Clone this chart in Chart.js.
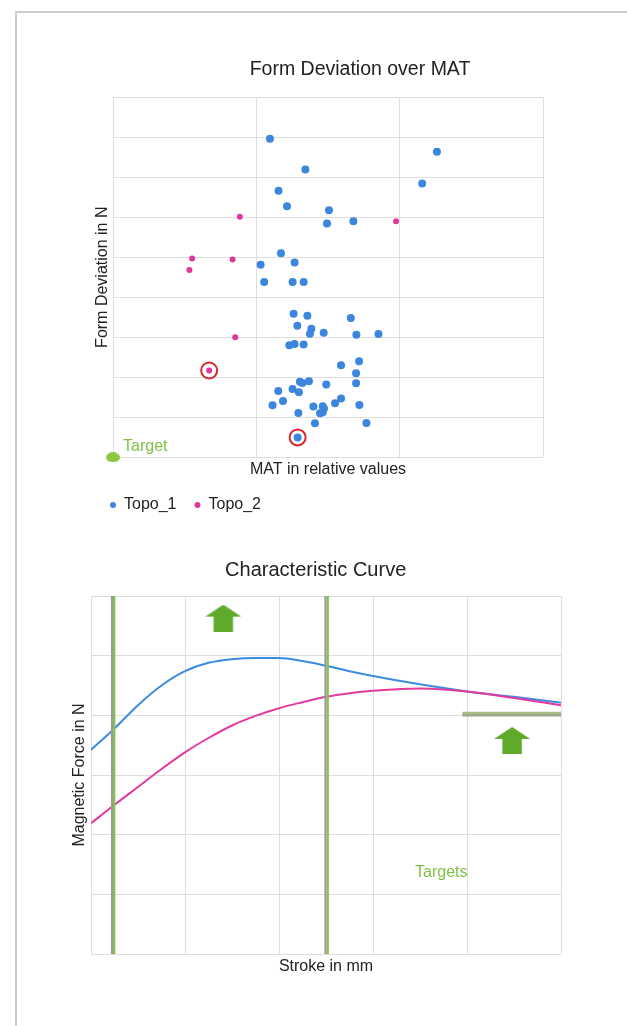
<!DOCTYPE html>
<html>
<head>
<meta charset="utf-8">
<script src="https://cdn.jsdelivr.net/npm/chart.js@4.4.1/dist/chart.umd.min.js"></script>
<style>
  html, body { margin: 0; padding: 0; background: #fff; overflow: hidden; width: 627px; height: 1026px; }
  #frame { position: absolute; left: 15px; top: 11px; width: 700px; height: 1100px;
           border-left: 2px solid #cdcdcd; border-top: 2px solid #cdcdcd; }
  #c1 { position: absolute; left: 92px; top: 40px; }
  #c2 { position: absolute; left: 6px; top: 540px; }
</style>
</head>
<body>
<div id="frame"></div>
<canvas id="c1" width="536" height="483" style="width:536px;height:483px"></canvas>
<canvas id="c2" width="622" height="437" style="width:622px;height:437px"></canvas>
<script>
// ---------- Chart 1 data: Form Deviation over MAT ----------
const topo1MAT = [1.095, 2.26, 1.342, 2.157, 1.155, 1.214, 1.507, 1.493, 1.677, 1.172, 1.267, 1.030, 1.055, 1.253, 1.330,
  1.260, 1.356, 1.659, 1.286, 1.384, 1.374, 1.470, 1.698, 1.852, 1.230, 1.267, 1.330, 1.591, 1.717, 1.696,
  1.304, 1.321, 1.367, 1.488, 1.696, 1.153, 1.253, 1.297, 1.186, 1.113, 1.398, 1.463, 1.472, 1.549, 1.591,
  1.719, 1.293, 1.444, 1.463, 1.409, 1.768, 1.288];
const topo1Dev = [7.96, 7.63, 7.19, 6.84, 6.66, 6.27, 6.17, 5.84, 5.90, 5.10, 4.87, 4.81, 4.38, 4.38, 4.38,
  3.59, 3.54, 3.48, 3.29, 3.21, 3.09, 3.11, 3.06, 3.08, 2.80, 2.83, 2.82, 2.30, 2.40, 2.10,
  1.89, 1.86, 1.90, 1.82, 1.85, 1.66, 1.71, 1.63, 1.41, 1.30, 1.27, 1.28, 1.22, 1.35, 1.47,
  1.31, 1.11, 1.10, 1.13, 0.85, 0.86, 0.50];
const topo2MAT = [0.885, 1.975, 0.552, 0.834, 0.533, 0.853, 0.671];
const topo2Dev = [6.01, 5.90, 4.97, 4.94, 4.68, 3.00, 2.17];
const highlightMAT = [0.671, 1.288];
const highlightDev = [2.17, 0.50];
const targetMAT = [0];
const targetDev = [0];
const matTicksMax = 3;
const devTicksMax = 9;
const targetLabel1 = { text: 'Target', x: 0.07, y: 0.26 };

// ---------- Chart 2 data: Characteristic Curve ----------
const strokeValues = [0, 0.25, 0.5, 0.75, 1, 1.25, 1.5, 1.75, 2, 2.25, 2.5, 2.75, 3, 3.5, 4, 4.5, 5];
const topo1Force   = [3.42, 3.78, 4.17, 4.50, 4.74, 4.88, 4.94, 4.96, 4.96, 4.91, 4.83, 4.74, 4.66, 4.52, 4.40, 4.31, 4.21];
const topo2Force   = [2.19, 2.50, 2.80, 3.10, 3.38, 3.62, 3.83, 3.99, 4.12, 4.22, 4.31, 4.37, 4.41, 4.45, 4.40, 4.29, 4.17];
const targetStrokeLines = [0.234, 2.505];
const targetForceLevel = 4.02;
const targetForceFrom = 3.95;
const targetForceTo = 5.0;
const arrowStroke = [1.407, 4.48];
const arrowForce  = [5.63, 3.58];
const strokeMax = 5;
const forceMax = 6;
const targetLabel2 = { text: 'Targets', x: 3.447, y: 1.357 };

// ---------- styling ----------
const FONT = '"Liberation Sans", Arial, Helvetica, sans-serif';
Chart.defaults.font.family = FONT;
Chart.defaults.color = '#222';
const BLUE = '#3d86dd';
const PINK = '#e0379c';
const GREEN_TXT = '#80bf48';
const GRID = '#dedede';

function makeEllipse(w, h, color) {
  const c = document.createElement('canvas');
  c.width = w; c.height = h;
  const g = c.getContext('2d');
  g.fillStyle = color;
  g.beginPath();
  g.ellipse(w / 2, h / 2, w / 2, h / 2, 0, 0, Math.PI * 2);
  g.fill();
  return c;
}
function makeArrow(w, h, color) {
  const c = document.createElement('canvas');
  c.width = w; c.height = h;
  const g = c.getContext('2d');
  g.fillStyle = color;
  const headH = h * 0.44, inset = w * 0.23;
  g.beginPath();
  g.moveTo(w / 2, 0);
  g.lineTo(w, headH);
  g.lineTo(w - inset, headH);
  g.lineTo(w - inset, h);
  g.lineTo(inset, h);
  g.lineTo(inset, headH);
  g.lineTo(0, headH);
  g.closePath();
  g.fill();
  return c;
}

const shiftPlugin = {
  id: 'shiftLayer',
  beforeDatasetDraw(chart, args) {
    const ds = chart.data.datasets[args.index];
    if (ds.shift) { chart.ctx.save(); chart.ctx.translate(ds.shift[0], ds.shift[1]); }
  },
  afterDatasetDraw(chart, args) {
    const ds = chart.data.datasets[args.index];
    if (ds.shift) chart.ctx.restore();
  }
};
const textPlugin = {
  id: 'chartText',
  afterDatasetsDraw(chart, args, opts) {
    const ctx = chart.ctx;
    (opts.items || []).forEach(it => {
      const x = chart.scales.x.getPixelForValue(it.x);
      const y = chart.scales.y.getPixelForValue(it.y);
      ctx.save();
      ctx.font = '16px ' + FONT;
      ctx.fillStyle = opts.color;
      ctx.textAlign = 'left';
      ctx.textBaseline = 'middle';
      ctx.fillText(it.text, x, y);
      ctx.restore();
    });
  }
};

const zip = (xs, ys) => xs.map((x, i) => ({ x, y: ys[i] }));

// ---------- Chart 1 ----------
new Chart(document.getElementById('c1'), {
  type: 'scatter',
  data: {
    datasets: [
      { label: 'highlight', data: zip(highlightMAT, highlightDev), pointRadius: 8, pointBorderWidth: 2,
        borderColor: '#d8262e', pointBorderColor: '#d8262e', backgroundColor: 'rgba(0,0,0,0)', pointBackgroundColor: 'rgba(0,0,0,0)', order: 0 },
      { label: 'Topo_2', data: zip(topo2MAT, topo2Dev), pointRadius: 3, borderWidth: 0, pointBorderWidth: 0,
        backgroundColor: PINK, borderColor: PINK, order: 1 },
      { label: 'Topo_1', data: zip(topo1MAT, topo1Dev), pointRadius: 4, borderWidth: 0, pointBorderWidth: 0,
        backgroundColor: BLUE, borderColor: BLUE, order: 2 },
      { label: 'target', data: zip(targetMAT, targetDev), pointStyle: makeEllipse(14, 10, '#8dc63f'),
        pointRadius: 6, clip: false, order: 3 }
    ]
  },
  options: {
    responsive: false,
    animation: false,
    events: [],
    layout: { padding: { left: 0, right: 0, top: 0, bottom: 0 } },
    scales: {
      x: {
        type: 'linear', min: 0, max: matTicksMax,
        ticks: { display: false, stepSize: 1 },
        grid: { color: GRID, drawTicks: false },
        border: { display: false },
        title: { display: true, text: 'MAT in relative values', font: { size: 16 }, color: '#222', padding: { top: 2.4, bottom: 0 } }
      },
      y: {
        type: 'linear', min: 0, max: devTicksMax,
        ticks: { display: false, stepSize: 1 },
        grid: { color: GRID, drawTicks: false },
        border: { display: false },
        title: { display: true, text: 'Form Deviation in N', font: { size: 16 }, color: '#222', padding: { top: 1, bottom: 0.8 } }
      },
      yRight: {
        type: 'linear', position: 'right', display: true,
        ticks: { display: false },
        grid: { display: false, drawTicks: false },
        border: { display: false },
        afterFit(scale) { scale.width = 85; }
      }
    },
    plugins: {
      title: { display: true, text: 'Form Deviation over MAT', font: { size: 19.5, weight: 'normal' }, color: '#222',
               padding: { top: 18.3, bottom: 15.3 } },
      legend: {
        display: true, position: 'bottom', align: 'start', reverse: true,
        labels: {
          usePointStyle: true, pointStyleWidth: 6, boxHeight: 4.3, padding: 18,
          font: { size: 16 }, color: '#222',
          filter: (item) => item.text === 'Topo_1' || item.text === 'Topo_2'
        }
      },
      tooltip: { enabled: false },
      chartText: { items: [targetLabel1], color: GREEN_TXT }
    }
  },
  plugins: [textPlugin]
});

// ---------- Chart 2 ----------
const vLineSets = [];
targetStrokeLines.forEach((sx) => {
  vLineSets.push({ label: 'tg', data: [{ x: sx, y: 0 }, { x: sx, y: forceMax }], borderColor: '#86c24f',
    borderWidth: 2.4, pointRadius: 0, shift: [1.2, 0], order: 0 });
  vLineSets.push({ label: 'tg', data: [{ x: sx, y: 0 }, { x: sx, y: forceMax }], borderColor: '#9b9b9b',
    borderWidth: 2.2, pointRadius: 0, shift: [-1.0, 0], order: 1 });
});
new Chart(document.getElementById('c2'), {
  type: 'line',
  data: {
    datasets: [
      ...vLineSets,
      { label: 'th1', data: [{ x: targetForceFrom, y: targetForceLevel }, { x: targetForceTo, y: targetForceLevel }],
        borderColor: '#a7bf86', borderWidth: 2.4, pointRadius: 0, shift: [0, -1.1], order: 0 },
      { label: 'th2', data: [{ x: targetForceFrom, y: targetForceLevel }, { x: targetForceTo, y: targetForceLevel }],
        borderColor: '#9da78f', borderWidth: 2.4, pointRadius: 0, shift: [0, 1.1], order: 1 },
      { label: 'arrows', data: zip(arrowStroke, arrowForce), showLine: false,
        pointStyle: makeArrow(36, 27, '#5fa92b'), pointRadius: 10, order: 0 },
      { label: 'Topo_2', data: zip(strokeValues, topo2Force), borderColor: '#e33a9d', borderWidth: 2,
        pointRadius: 0, cubicInterpolationMode: 'monotone', order: 3 },
      { label: 'Topo_1', data: zip(strokeValues, topo1Force), borderColor: '#3b8be0', borderWidth: 2,
        pointRadius: 0, cubicInterpolationMode: 'monotone', order: 4 }
    ]
  },
  options: {
    responsive: false,
    animation: false,
    events: [],
    layout: { padding: { left: 64.4, right: 67, top: 0, bottom: 0.7 } },
    scales: {
      x: {
        type: 'linear', min: 0, max: strokeMax,
        ticks: { display: false, stepSize: 1 },
        grid: { color: GRID, drawTicks: false },
        border: { display: false },
        title: { display: true, text: 'Stroke in mm', font: { size: 16 }, color: '#222', padding: { top: 3.1, bottom: 0 } }
      },
      y: {
        type: 'linear', min: 0, max: forceMax,
        ticks: { display: false, stepSize: 1 },
        grid: { color: GRID, drawTicks: false },
        border: { display: false },
        title: { display: true, text: 'Magnetic Force in N', font: { size: 16 }, color: '#222', padding: { top: 0, bottom: 1.4 } }
      }
    },
    plugins: {
      title: { display: true, text: 'Characteristic Curve', font: { size: 20, weight: 'normal' }, color: '#222',
               padding: { top: 18.7, bottom: 13.3 } },
      legend: { display: false },
      tooltip: { enabled: false },
      chartText: { items: [targetLabel2], color: GREEN_TXT }
    }
  },
  plugins: [shiftPlugin, textPlugin]
});
</script>
</body>
</html>
